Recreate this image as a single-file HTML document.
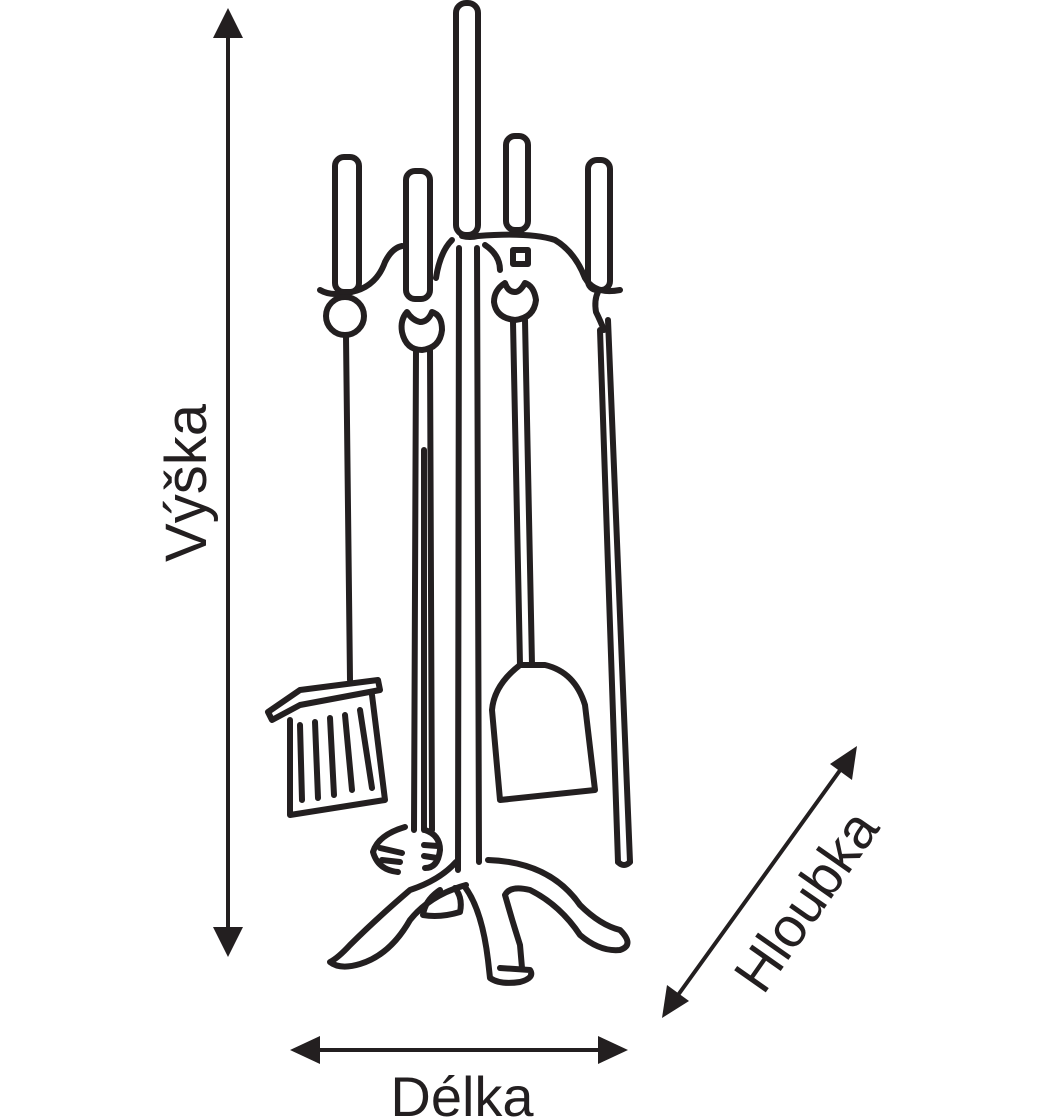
<!DOCTYPE html>
<html><head><meta charset="utf-8"><style>
html,body{margin:0;padding:0;background:#fff;width:1040px;height:1120px;overflow:hidden}
svg{display:block}
text{font-family:"Liberation Sans",sans-serif;fill:#231f20}
</style></head><body>
<svg width="1040" height="1120" viewBox="0 0 1040 1120" xmlns="http://www.w3.org/2000/svg">
<g stroke="#231f20" stroke-width="4" fill="none" stroke-linecap="round" stroke-linejoin="round">
<line x1="228" y1="30" x2="228" y2="935"/>
<line x1="312" y1="1050" x2="606" y2="1050"/>
<line x1="673" y1="1002" x2="846" y2="762"/>
</g>
<g fill="#231f20">
<polygon points="228,8 213,38 243,38"/>
<polygon points="228,957 213,927 243,927"/>
<polygon points="290,1050 320,1036 320,1064"/>
<polygon points="628,1050 598,1036 598,1064"/>
<polygon points="857,746 830,764 852,780"/>
<polygon points="662,1018 667,985 689,1001"/>
</g>
<text x="0" y="0" font-size="58" transform="translate(206,483) rotate(-90)" text-anchor="middle">Výška</text>
<text x="462" y="1116" font-size="56" text-anchor="middle">Délka</text>
<text x="0" y="0" font-size="56" transform="translate(822,912) rotate(-55)" text-anchor="middle">Hloubka</text>

<g stroke="#231f20" stroke-width="6" fill="none" stroke-linecap="round" stroke-linejoin="round">
<rect x="456" y="3" width="22" height="232" rx="10"/>
<path d="M459 248 L458 870"/>
<path d="M477 248 L479 862"/>
<rect x="335" y="157" width="24" height="135" rx="9"/>
<rect x="406" y="171" width="24" height="128" rx="9"/>
<rect x="506" y="136" width="22" height="94" rx="9"/>
<rect x="588" y="160" width="22" height="130" rx="9"/>
<path d="M320 290 Q330 296 345 293 Q375 290 385 262 Q392 248 402 246"/>
<path d="M436 278 Q440 252 452 240"/>
<path d="M462 236 Q470 238 478 236 Q530 232 555 240 Q575 252 585 278 Q595 295 620 290"/>
<path d="M485 245 Q500 255 500 270"/>
<rect x="513" y="250" width="15" height="14"/>
<circle cx="345" cy="316" r="19"/>
<path d="M407 312 Q400 320 402 332 Q406 350 422 350 Q440 348 442 330 Q442 315 432 312 Q428 322 420 322 Q412 320 407 312Z"/>
<path d="M505 283 Q494 290 494 302 Q496 318 515 320 Q534 318 536 300 Q534 286 525 283 Q520 292 515 292 Q508 292 505 283Z"/>
<line x1="346" y1="336" x2="350" y2="680"/>
<path d="M268 712 L300 690 L378 680 L380 690 L300 705 L272 720 Z"/>
<path d="M290 720 L290 815 L385 800 L372 695"/>
<path d="M300 725 L302 800 M315 722 L318 798 M330 718 L334 795 M345 715 L352 790 M360 710 L372 788"/>
<line x1="416" y1="350" x2="414" y2="830"/>
<line x1="430" y1="350" x2="432" y2="830"/>
<line x1="424" y1="450" x2="424" y2="830"/>
<path d="M405 827 Q378 835 373 852 Q378 870 398 872"/>
<path d="M380 848 L402 853 M382 860 L400 862 M425 830 Q440 835 440 850 Q438 868 425 868 M424 845 L438 846 M424 856 L437 858"/>
<line x1="513" y1="322" x2="520" y2="665"/>
<line x1="525" y1="320" x2="532" y2="665"/>
<path d="M520 665 Q494 685 492 710 L500 800 L595 790 L585 705 Q575 672 545 665 Z"/>
<path d="M598 292 Q594 300 596 312 Q600 320 604 330"/>
<path d="M600 330 L618 862"/>
<path d="M608 320 L630 862"/>
<path d="M618 862 Q624 868 630 862"/>
<path d="M456 862 Q440 880 410 890 Q375 920 350 945 Q338 958 330 962 Q340 970 360 964 Q390 955 410 920 Q430 895 466 885"/>
<path d="M488 860 Q550 862 580 905 Q600 925 620 930 Q635 945 620 950 Q600 952 580 935 Q560 905 530 890 Q510 885 505 895 Q512 920 520 945 L522 968"/>
<path d="M465 887 Q482 910 488 960 L490 978 Q500 985 520 982 Q535 978 530 970 L500 968"/>
<path d="M440 890 Q425 900 423 915 Q440 918 460 912 Q463 898 455 888"/>
</g>
</svg>
</body></html>
